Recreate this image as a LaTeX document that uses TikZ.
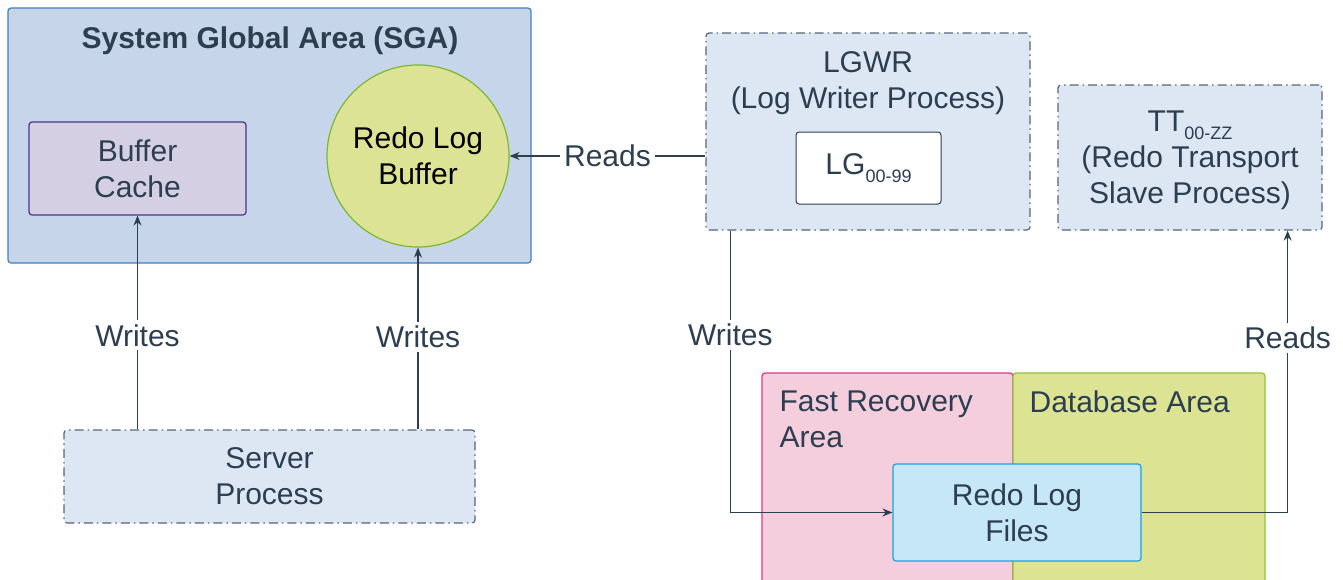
\documentclass[tikz,border=0pt]{standalone}
\usepackage{fontspec}
\setmainfont{Liberation Sans}
\usetikzlibrary{arrows.meta,positioning}

\definecolor{ink}{HTML}{2C3E50}
\definecolor{sgafill}{HTML}{C6D5EA}
\definecolor{sgaline}{HTML}{3D82C4}
\definecolor{cachefill}{HTML}{D5CFE4}
\definecolor{cacheline}{HTML}{45358F}
\definecolor{rlbfill}{HTML}{DCE394}
\definecolor{rlbline}{HTML}{7CB82F}
\definecolor{procfill}{HTML}{DCE7F3}
\definecolor{procline}{HTML}{56677A}
\definecolor{frafill}{HTML}{F5CEDD}
\definecolor{fraline}{HTML}{E3348B}
\definecolor{dbafill}{HTML}{DCE393}
\definecolor{dbaline}{HTML}{8EC13C}
\definecolor{rlffill}{HTML}{C6E7F7}
\definecolor{rlfline}{HTML}{1BA1E2}

\newcommand{\lowtag}[1]{\raisebox{-8pt}{\fontsize{18}{18}\selectfont #1}}

\begin{document}
\begin{tikzpicture}[x=1pt,y=-1pt,
        every node/.style={font=\fontsize{30}{36}\selectfont, text=ink},
        box/.style={draw, rectangle, rounded corners=3pt, inner sep=0pt, align=center, line width=1.2pt},
        proc/.style={box, draw=procline, fill=procfill, dash pattern=on 9pt off 4pt on 1.5pt off 4pt},
        link/.style={draw=ink, line width=1.3pt, -{Stealth[length=10pt,width=8pt]}},
        lbl/.style={fill=white, inner sep=4pt}]
    \useasboundingbox (0,0) rectangle (1343,579);

    \node [box, draw=sgaline, fill=sgafill, minimum width=523pt, minimum height=255pt] (sga) at (269.5,135.5) {};
    \node [font=\fontsize{30}{36}\selectfont\bfseries] (sgatext) at (270,41) {System Global Area (SGA)};
    \node [box, draw=cacheline, fill=cachefill, minimum width=217pt, minimum height=93pt] (cache) at (137.5,168.5) {Buffer\\Cache};
    \node [circle, draw=rlbline, fill=rlbfill, line width=1.2pt, minimum size=182pt, inner sep=0pt, align=center, text=black] (rlb) at (418,156) {Redo Log\\Buffer};

    \node [proc, minimum width=324pt, minimum height=197pt] (lgwr) at (868,131.5) {};
    \node [align=center] (lgwrtext) at (868,83) {LGWR\\(Log Writer Process)};
    \node [box, draw=ink, fill=white, line width=1pt, minimum width=145pt, minimum height=72pt] (lg) at (868.5,168) {LG\lowtag{00-99}};
    \node [proc, minimum width=264pt, minimum height=145pt] (tt) at (1190,157.5) {};
    \node [align=center] (tttext) at (1190,160) {TT\lowtag{00-ZZ}\\(Redo Transport\\Slave Process)};
    \node [proc, minimum width=411pt, minimum height=93pt] (srv) at (269.5,476.5) {Server\\Process};

    \node [box, draw=fraline, fill=frafill, minimum width=251pt, minimum height=227pt] (fra) at (887.5,486.5) {};
    \node [box, draw=dbaline, fill=dbafill, minimum width=252pt, minimum height=227pt] (dba) at (1139,486.5) {};
    \node [anchor=north west, align=left, inner sep=0pt] (fratext) at ([shift={(18,18)}]fra.north west) {Fast Recovery\\Area};
    \node [anchor=north west, align=left, inner sep=0pt] (dbatext) at ([shift={(17,18)}]dba.north west) {Database Area};
    \node [box, draw=rlfline, fill=rlffill, minimum width=248pt, minimum height=97pt] (rlf) at (1017,512.5) {Redo Log\\Files};

    \draw [link] (cache.south |- srv.north) -- node[lbl, pos=0.44] {Writes} (cache.south);
    \draw [link] (rlb.south |- srv.north) -- node[lbl, pos=0.51] {Writes} (rlb.south);
    \draw [link] (lgwr.west |- rlb.east) -- node[lbl] {Reads} (rlb.east);
    \draw [link] ([xshift=25pt]lgwr.south west) |- node[lbl, pos=0.185] {Writes} (rlf.west);
    \draw [link] (rlf.east) -| node[lbl, pos=0.81] {Reads} ([xshift=-35pt]tt.south east);
\end{tikzpicture}
\end{document}
